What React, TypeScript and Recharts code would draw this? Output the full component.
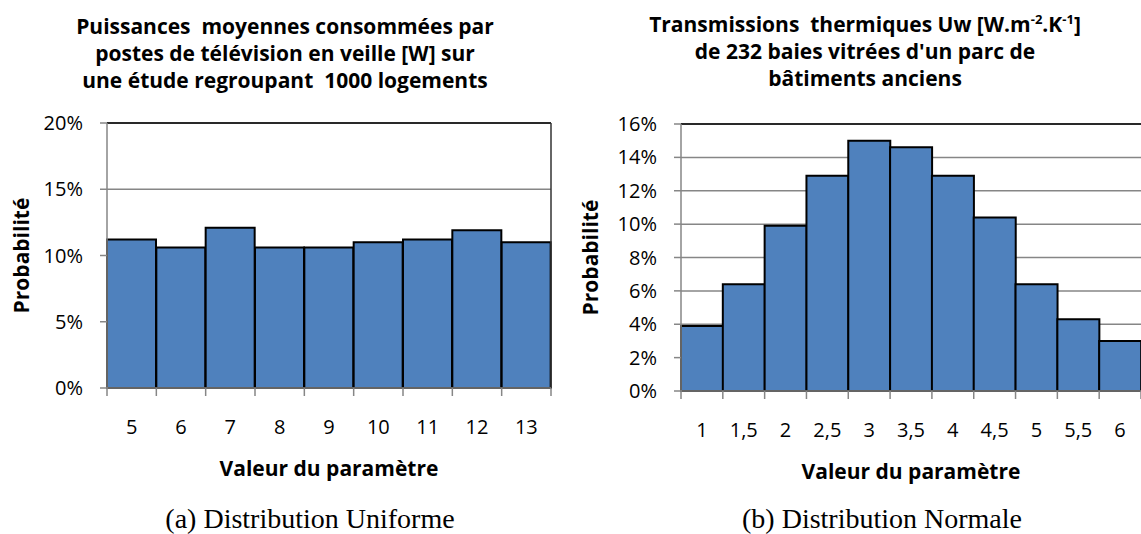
import React from 'react';
import {
    BarChart,
    Bar,
    XAxis,
    YAxis,
    CartesianGrid,
    ReferenceLine,
    Label
} from 'recharts';

// (a) uniforme : puissance en veille [W] -> probabilité [%]
const uniformCategories = ['5', '6', '7', '8', '9', '10', '11', '12', '13'];
const uniformValues = [11.2, 10.6, 12.1, 10.6, 10.6, 11.0, 11.2, 11.9, 11.0];
const uniformTicks = [0, 5, 10, 15, 20];

// (b) normale : Uw [W.m-2.K-1] -> probabilité [%]
const normalCategories = ['1', '1,5', '2', '2,5', '3', '3,5', '4', '4,5', '5', '5,5', '6'];
const normalValues = [3.9, 6.4, 9.9, 12.9, 15.0, 14.6, 12.9, 10.4, 6.4, 4.3, 3.0];
const normalTicks = [0, 2, 4, 6, 8, 10, 12, 14, 16];

const FONT = '"Open Sans", sans-serif';
const GREY = '#868686';
const BAR_BLUE = '#4F81BD';

const uniformData = uniformCategories.map((c, i) => ({ cat: c, p: uniformValues[i] }));
const normalData = normalCategories.map((c, i) => ({ cat: c, p: normalValues[i] }));

// tick label centred on the bar, tick mark on the bar edges (Excel style)
function makeEdgeTick(bandWidth: number, count: number) {
    return function EdgeTick(props: any) {
        const { x, y, payload, index } = props;
        const half = bandWidth / 2;
        return (
            <g>
                <line x1={x - half} x2={x - half} y1={y} y2={y + 8} stroke={GREY} strokeWidth={1.5} />
                {index === count - 1 && (
                    <line x1={x + half} x2={x + half} y1={y} y2={y + 8} stroke={GREY} strokeWidth={1.5} />
                )}
                <text x={x} y={y + 46} textAnchor="middle" fill="#000" fontSize={20} fontFamily={FONT}>
                    {payload.value}
                </text>
            </g>
        );
    };
}

function Histogram({
    data,
    ticks,
    width,
    height,
    margin,
    plotWidth,
    yTitleDx
}: {
    data: { cat: string; p: number }[];
    ticks: number[];
    width: number;
    height: number;
    margin: { top: number; right: number; bottom: number; left: number };
    plotWidth: number;
    yTitleDx: number;
}) {
    const max = ticks[ticks.length - 1];
    const last = data[data.length - 1].cat;
    return (
        <BarChart width={width} height={height} data={data} margin={margin} barCategoryGap={0}>
            <CartesianGrid vertical={false} stroke={GREY} strokeWidth={1.5} />
            <XAxis
                dataKey="cat"
                axisLine={{ stroke: GREY, strokeWidth: 1.5 }}
                tickLine={false}
                tickSize={0}
                tickMargin={0}
                height={90}
                interval={0}
                tick={makeEdgeTick(plotWidth / data.length, data.length)}
            >
                <Label
                    value="Valeur du paramètre"
                    position="insideBottom"
                    offset={2}
                    style={{ fontFamily: FONT, fontWeight: 700, fontSize: 21, fill: '#000' }}
                />
            </XAxis>
            <YAxis
                width={60}
                domain={[0, max]}
                ticks={ticks}
                interval={0}
                axisLine={{ stroke: GREY, strokeWidth: 1.5 }}
                tickLine={{ stroke: GREY, strokeWidth: 1.5 }}
                tickSize={7}
                tickMargin={17}
                tickFormatter={(v) => `${v}%`}
                tick={{ fill: '#000', fontSize: 20, fontFamily: FONT }}
            >
                <Label
                    value="Probabilité"
                    angle={-90}
                    position="center"
                    dx={yTitleDx}
                    style={{ fontFamily: FONT, fontWeight: 700, fontSize: 21, fill: '#000', textAnchor: 'middle' }}
                />
            </YAxis>
            <Bar dataKey="p" fill={BAR_BLUE} stroke="#000" strokeWidth={2} isAnimationActive={false} />
            <ReferenceLine y={max} stroke="#000" strokeWidth={1.5} />
            <ReferenceLine x={last} position="end" stroke="#333" strokeWidth={1.5} />
        </BarChart>
    );
}

const titleStyle: React.CSSProperties = {
    position: 'absolute',
    fontFamily: FONT,
    fontWeight: 700,
    fontSize: 21,
    lineHeight: '27px',
    textAlign: 'center',
    color: '#000',
    whiteSpace: 'nowrap'
};

const captionStyle: React.CSSProperties = {
    position: 'absolute',
    fontFamily: '"Liberation Serif", "Times New Roman", serif',
    fontSize: 28,
    lineHeight: '28px',
    textAlign: 'center',
    color: '#000',
    whiteSpace: 'nowrap'
};

const supStyle: React.CSSProperties = { fontSize: 13, verticalAlign: 'super', lineHeight: 0 };

export default function App() {
    return (
        <div style={{ position: 'absolute', left: 0, top: 0, width: 1141, height: 534, background: '#fff', overflow: 'hidden' }}>
            <div style={{ position: 'absolute', left: 0, top: 0 }}>
                <Histogram
                    data={uniformData}
                    ticks={uniformTicks}
                    width={560}
                    height={534}
                    margin={{ top: 123, right: 9, bottom: 56, left: 47 }}
                    plotWidth={444}
                    yTitleDx={-55}
                />
            </div>
            <div style={{ position: 'absolute', left: 560, top: 0 }}>
                <Histogram
                    data={normalData}
                    ticks={normalTicks}
                    width={581}
                    height={534}
                    margin={{ top: 124, right: 0, bottom: 53, left: 61 }}
                    plotWidth={460}
                    yTitleDx={-60}
                />
            </div>

            <div style={{ ...titleStyle, left: 0, width: 570, top: 13 }}>
                Puissances&nbsp; moyennes consommées par<br />
                postes de télévision en veille [W] sur<br />
                une étude regroupant&nbsp; 1000 logements
            </div>
            <div style={{ ...titleStyle, left: 585, width: 560, top: 11 }}>
                Transmissions&nbsp; thermiques Uw [W.m<span style={supStyle}>-2</span>.K<span style={supStyle}>-1</span>]<br />
                de 232 baies vitrées d'un parc de<br />
                bâtiments anciens
            </div>

            <div style={{ ...captionStyle, left: 10, width: 600, top: 505 }}>(a) Distribution Uniforme</div>
            <div style={{ ...captionStyle, left: 582, width: 600, top: 505 }}>(b) Distribution Normale</div>
        </div>
    );
}
